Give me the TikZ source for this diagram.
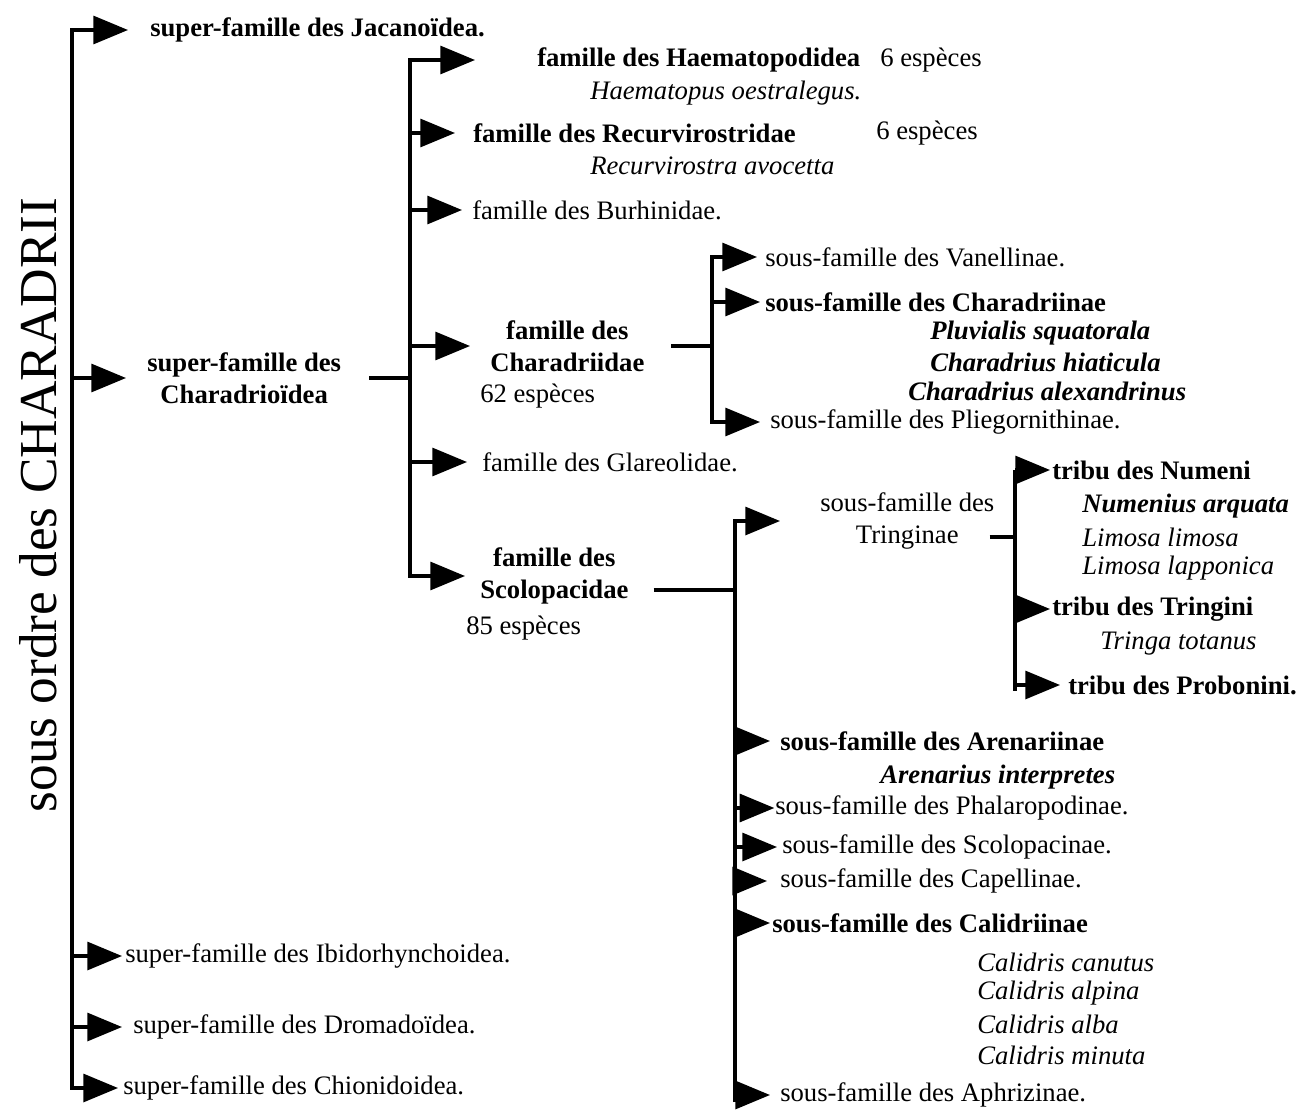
\documentclass[tikz,border=0pt]{standalone}
\usepackage{fontspec}
\setmainfont{Liberation Serif}
\usetikzlibrary{arrows.meta,calc}
\tikzset{
  lbl/.style={anchor=west, inner sep=0pt, font=\fontsize{20}{24}\selectfont},
  blbl/.style={anchor=west, inner sep=0pt, font=\fontsize{20}{24}\selectfont\bfseries},
  sp/.style={anchor=west, inner sep=0pt, font=\fontsize{20}{24}\selectfont\itshape},
  bsp/.style={anchor=west, inner sep=0pt, font=\fontsize{20}{24}\selectfont\bfseries\itshape},
  bus/.style={line width=2.3pt, line join=miter},
  arr/.style={bus, ->},
  >={Triangle[length=26pt,width=21pt]}
}
\begin{document}
\begin{tikzpicture}[x=0.75pt,y=-0.75pt]
\useasboundingbox (0,0) rectangle (1304,1110);
\fill[white] (0,0) rectangle (1304,1110);

% bus positions
\coordinate (b1) at (72,0);
\coordinate (b2) at (410,0);
\coordinate (b3a) at (712,0);
\coordinate (b3b) at (735,0);
\coordinate (b4) at (1015,0);

% title
\node[rotate=90, inner sep=0pt, font=\fontsize{40}{48}\selectfont] (title) at (38,505) {sous ordre des CHARADRII};

% level 1
\node[blbl] (jac) at (150,30) {super-famille des Jacanoïdea.};
\node[blbl, align=center] (chd) at (147,378) {super-famille des\\Charadrioïdea};
\node[lbl] (ibi) at (125,956) {super-famille des Ibidorhynchoidea.};
\node[lbl] (dro) at (133,1027) {super-famille des Dromadoïdea.};
\node[lbl] (chi) at (123,1088) {super-famille des Chionidoidea.};

\draw[bus, <->] ([xshift=-16.5pt]jac.west) -- (b1 |- jac.west) -- (b1 |- chi.west) -- ([xshift=-3.75pt]chi.west);
\draw[arr] (b1 |- chd.west) -- ([xshift=-15.75pt]chd.west);
\draw[arr] (b1 |- ibi.west) -- ([xshift=-2.25pt]ibi.west);
\draw[arr] (b1 |- dro.west) -- ([xshift=-8.25pt]dro.west);

% level 2
\node[blbl] (hae) at (537,60) {famille des Haematopodidea};
\node[lbl] (hae6) at (880,60) {6 espèces};
\node[sp] (haesp) at (590,93) {Haematopus oestralegus.};
\node[blbl] (rec) at (473,133) {famille des Recurvirostridae};
\node[lbl] (rec6) at (876,133) {6 espèces};
\node[sp] (recsp) at (590,166) {Recurvirostra avocetta};
\node[lbl] (bur) at (472,210) {famille des Burhinidae.};
\node[blbl, align=center] (cha) at (490,346) {famille des\\Charadriidae};
\node[lbl] (cha62) at (480,396) {62 espèces};
\node[lbl] (gla) at (482,462) {famille des Glareolidae.};
\node[blbl, align=center] (sco) at (480,576) {famille des\\Scolopacidae};
\node[lbl] (sco85) at (466,628) {85 espèces};

\draw[bus] ([xshift=21pt]chd.east) -- (b2 |- chd.east);
\draw[bus, <->] ([xshift=-46.5pt]hae.west) -- (b2 |- hae.west) -- (b2 |- sco.west) -- ([xshift=-11.25pt]sco.west);
\draw[arr] (b2 |- rec.west) -- ([xshift=-13.5pt]rec.west);
\draw[arr] (b2 |- bur.west) -- ([xshift=-7.5pt]bur.west);
\draw[arr] (b2 |- cha.west) -- ([xshift=-15pt]cha.west);
\draw[arr] (b2 |- gla.west) -- ([xshift=-11.25pt]gla.west);

% level 3a (Charadriidae)
\node[lbl] (van) at (765,257) {sous-famille des Vanellinae.};
\node[blbl] (chr) at (765,302) {sous-famille des Charadriinae};
\node[bsp] (plu) at (930,333) {Pluvialis squatorala};
\node[bsp] (hia) at (930,362) {Charadrius hiaticula};
\node[bsp] (ale) at (908,391) {Charadrius alexandrinus};
\node[lbl] (pli) at (770,422) {sous-famille des Pliegornithinae.};

\draw[bus] ([xshift=20pt]cha.east) -- (b3a |- cha.east);
\draw[bus, <->] ([xshift=-6pt]van.west) -- (b3a |- van.west) -- (b3a |- pli.west) -- ([xshift=-7.5pt]pli.west);
\draw[arr] (b3a |- chr.west) -- ([xshift=-3.75pt]chr.west);

% level 3b (Scolopacidae)
\node[lbl, align=center] (tri) at (820,521) {sous-famille des\\Tringinae};
\node[blbl] (are) at (780,741) {sous-famille des Arenariinae};
\node[bsp] (aint) at (880,777) {Arenarius interpretes};
\node[lbl] (pha) at (775,808) {sous-famille des Phalaropodinae.};
\node[lbl] (scp) at (782,847) {sous-famille des Scolopacinae.};
\node[lbl] (cap) at (780,881) {sous-famille des Capellinae.};
\node[blbl] (cal) at (772,923) {sous-famille des Calidriinae};
\node[sp] (cca) at (977,962) {Calidris canutus};
\node[sp] (cap2) at (977,993) {Calidris alpina};
\node[sp] (cab) at (977,1024) {Calidris alba};
\node[sp] (cmi) at (977,1055) {Calidris minuta};
\node[lbl] (aph) at (780,1095) {sous-famille des Aphrizinae.};

\draw[bus] ($(sco.east)+(25,14)$) coordinate (s1) -- (b3b |- s1);
\draw[arr] ($(b3b |- aph.west)+(0,7)$) -- (b3b |- tri.west) -- ([xshift=-30pt]tri.west);
\draw[arr] (b3b |- are.west) -- ([xshift=-7.5pt]are.west);
\draw[arr] (b3b |- pha.west) -- ([xshift=-0.5pt]pha.west);
\draw[arr] (b3b |- scp.west) -- ([xshift=-3.75pt]scp.west);
\draw[arr] (b3b |- cap.west) -- ([xshift=-9.75pt]cap.west);
\draw[arr] (b3b |- cal.west) -- ([xshift=-1.5pt]cal.west);
\draw[arr] (b3b |- aph.west) -- ([xshift=-7.5pt]aph.west);

% level 4 (Tringinae)
\node[blbl] (num) at (1052,470) {tribu des Numeni};
\node[bsp] (nar) at (1082,506) {Numenius arquata};
\node[sp] (lli) at (1082,537) {Limosa limosa};
\node[sp] (lla) at (1082,568) {Limosa lapponica};
\node[blbl] (trg) at (1052,609) {tribu des Tringini};
\node[sp] (tto) at (1100,644) {Tringa totanus};
\node[blbl] (pro) at (1068,685) {tribu des Probonini.};

\draw[bus] ($(tri.east)+(-5,16)$) coordinate (t1) -- (b4 |- t1);
\draw[bus] (b4 |- num.west) -- ($(b4 |- pro.west)+(0,6)$);
\draw[arr] (b4 |- num.west) -- ([xshift=-1.5pt]num.west);
\draw[arr] (b4 |- trg.west) -- ([xshift=-1.5pt]trg.west);
\draw[arr] (b4 |- pro.west) -- ([xshift=-6pt]pro.west);
\end{tikzpicture}
\end{document}
